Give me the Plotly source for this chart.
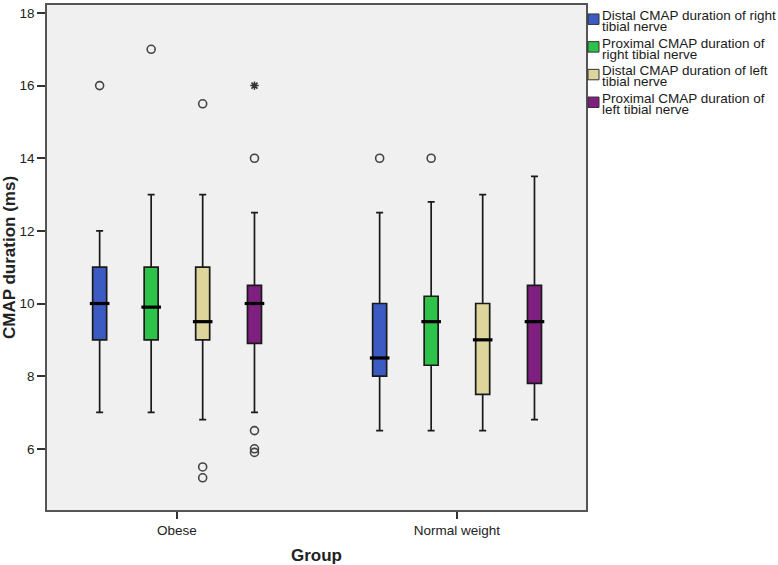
import plotly.graph_objects as go

# ---------------- data ----------------
categories = ["Obese", "Normal weight"]

series_names = [
    "Distal CMAP duration of right tibial nerve",
    "Proximal CMAP duration of right tibial nerve",
    "Distal CMAP duration of left tibial nerve",
    "Proximal CMAP duration of left tibial nerve",
]
legend_lines = [
    ["Distal CMAP duration of right", "tibial nerve"],
    ["Proximal CMAP duration of", "right tibial nerve"],
    ["Distal CMAP duration of left", "tibial nerve"],
    ["Proximal CMAP duration of", "left tibial nerve"],
]

# per series: [Obese, Normal weight]
lower_whisker = [[7.0, 6.5], [7.0, 6.5], [6.8, 6.5], [7.0, 6.8]]
q1_values     = [[9.0, 8.0], [9.0, 8.3], [9.0, 7.5], [8.9, 7.8]]
medians       = [[10.0, 8.5], [9.9, 9.5], [9.5, 9.0], [10.0, 9.5]]
q3_values     = [[11.0, 10.0], [11.0, 10.2], [11.0, 10.0], [10.5, 10.5]]
upper_whisker = [[12.0, 12.5], [13.0, 12.8], [13.0, 13.0], [12.5, 13.5]]

# outliers (circles) per series, per group
outliers = [
    [[16.0], [14.0]],
    [[17.0], [14.0]],
    [[15.5, 5.5, 5.2], []],
    [[14.0, 6.5, 6.0, 5.9], []],
]
# extreme values (asterisk) per series, per group
extremes = [
    [[], []],
    [[], []],
    [[], []],
    [[16.0], []],
]

# ---------------- style ----------------
colors = ["#3b5bc2", "#2fc24b", "#ddd59c", "#7f1f80"]
series_offset = [-0.276, -0.092, 0.092, 0.277]
box_width = 0.05
FONT = "Liberation Sans, Arial, sans-serif"

W, H = 778, 565
ML, MR, MT, MB = 47, 192, 3, 55
PW, PH = W - ML - MR, H - MT - MB


def px_x(p):
    return (p - ML) / PW


def px_y(p):
    return (H - MB - p) / PH


fig = go.Figure()

for s, name in enumerate(series_names):
    xs = [g + series_offset[s] for g in range(len(categories))]
    fig.add_trace(go.Box(
        name=name,
        x=xs,
        q1=q1_values[s], median=medians[s], q3=q3_values[s],
        lowerfence=lower_whisker[s], upperfence=upper_whisker[s],
        width=box_width,
        whiskerwidth=0.5,
        fillcolor=colors[s],
        line=dict(color="#1a1a1a", width=1.7),
        boxpoints=False,
        showlegend=False,
        hoverinfo="skip",
    ))
    # thick median bars
    fig.add_trace(go.Scatter(
        x=xs, y=medians[s], mode="markers",
        marker=dict(symbol="line-ew", size=14,
                    line=dict(color="black", width=3.2)),
        showlegend=False, hoverinfo="skip",
    ))
    ox, oy = [], []
    for g in range(len(categories)):
        for v in outliers[s][g]:
            ox.append(g + series_offset[s])
            oy.append(v)
    if ox:
        fig.add_trace(go.Scatter(
            x=ox, y=oy, mode="markers",
            marker=dict(symbol="circle-open", size=8,
                        color="#444444", line=dict(width=1.6)),
            showlegend=False, hoverinfo="skip",
        ))
    ex, ey = [], []
    for g in range(len(categories)):
        for v in extremes[s][g]:
            ex.append(g + series_offset[s])
            ey.append(v)
    if ex:
        fig.add_trace(go.Scatter(
            x=ex, y=ey, mode="markers",
            marker=dict(symbol="asterisk-open", size=7,
                        color="#333333", line=dict(width=1.5, color="#333333")),
            showlegend=False, hoverinfo="skip",
        ))

# ---------------- manual legend ----------------
shapes = []
annotations = []
for i, lines in enumerate(legend_lines):
    top = 12 + 27.8 * i
    shapes.append(dict(
        type="rect", xref="paper", yref="paper",
        x0=px_x(588), x1=px_x(599), y0=px_y(top + 10.5), y1=px_y(top),
        fillcolor=colors[i], line=dict(color="#333333", width=1),
    ))
    for j, txt in enumerate(lines):
        annotations.append(dict(
            text=txt, xref="paper", yref="paper",
            x=px_x(600), y=px_y(top + 1.5 + 11 * j),
            xanchor="left", yanchor="middle", showarrow=False,
            font=dict(family=FONT, size=13.5, color="#1a1a1a"),
        ))

fig.update_layout(
    width=W, height=H,
    margin=dict(l=ML, r=MR, t=MT, b=MB),
    paper_bgcolor="white",
    plot_bgcolor="#f0f0f0",
    font=dict(family=FONT, color="#222222"),
    showlegend=False,
    shapes=shapes,
    annotations=annotations,
)

fig.update_xaxes(
    range=[-0.464, 1.461],
    tickvals=list(range(len(categories))),
    ticktext=categories,
    ticks="outside", ticklen=7, tickwidth=1.5, tickcolor="#333333",
    tickfont=dict(family=FONT, size=13.5, color="#222222"),
    showline=True, linecolor="#555555", linewidth=1.5, mirror=True,
    showgrid=False, zeroline=False,
    title=dict(text="<b>Group</b>", font=dict(family=FONT, size=17, color="#222222"),
               standoff=12),
)
fig.update_yaxes(
    range=[4.314, 18.22],
    tickvals=[6, 8, 10, 12, 14, 16, 18],
    ticks="outside", ticklen=8, tickwidth=1.5, tickcolor="#333333",
    tickfont=dict(family=FONT, size=13.5, color="#222222"),
    showline=True, linecolor="#555555", linewidth=1.5, mirror=True,
    showgrid=False, zeroline=False,
    title=dict(text="<b>CMAP duration (ms)</b>",
               font=dict(family=FONT, size=17, color="#222222"), standoff=4),
)

fig.write_html("out.html", config={"displayModeBar": False},
               post_script="document.body.style.margin='0';")
